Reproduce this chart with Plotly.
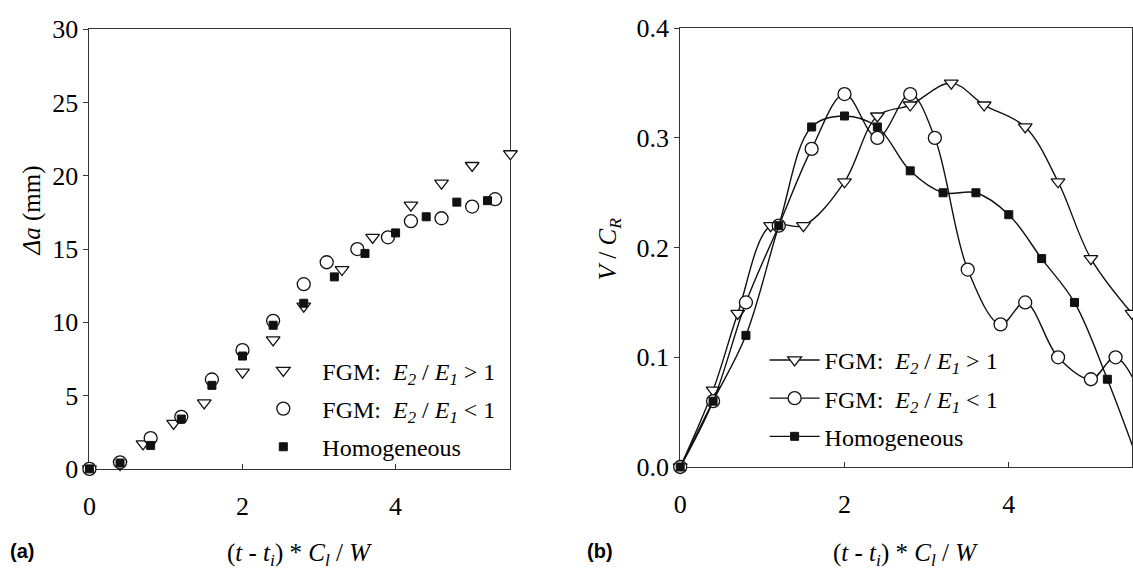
import plotly.graph_objects as go

W, H = 1133, 576

# ---------------- data ----------------
# time instants, (t - ti) * Cl / W
t_up = [0, 0.4, 0.7, 1.1, 1.5, 2.0, 2.4, 2.8, 3.3, 3.7, 4.2, 4.6, 5.0, 5.5]
t_down = [0, 0.4, 0.8, 1.2, 1.6, 2.0, 2.4, 2.8, 3.1, 3.5, 3.9, 4.2, 4.6, 5.0, 5.3]
t_hom = [0, 0.4, 0.8, 1.2, 1.6, 2.0, 2.4, 2.8, 3.2, 3.6, 4.0, 4.4, 4.8, 5.2]

# (a) crack extension, mm
da_up = [0, 0.3, 1.7, 3.1, 4.5, 6.6, 8.8, 11.1, 13.6, 15.8, 18.0, 19.5, 20.7, 21.5]
da_down = [0, 0.45, 2.1, 3.55, 6.1, 8.1, 10.1, 12.6, 14.1, 15.0, 15.8, 16.9, 17.1, 17.9, 18.4]
da_hom = [0, 0.4, 1.6, 3.4, 5.7, 7.7, 9.8, 11.3, 13.1, 14.7, 16.1, 17.2, 18.2, 18.3]

# (b) crack speed V / CR (curves continue past the right edge)
tv_up = [0, 0.4, 0.7, 1.1, 1.5, 2.0, 2.4, 2.8, 3.3, 3.7, 4.2, 4.6, 5.0, 5.5]
v_up = [0, 0.07, 0.14, 0.22, 0.22, 0.26, 0.32, 0.33, 0.35, 0.33, 0.31, 0.26, 0.19, 0.14]
tv_down = [0, 0.4, 0.8, 1.2, 1.6, 2.0, 2.4, 2.8, 3.1, 3.5, 3.9, 4.2, 4.6, 5.0, 5.3, 5.7]
v_down = [0, 0.06, 0.15, 0.22, 0.29, 0.34, 0.30, 0.34, 0.30, 0.18, 0.13, 0.15, 0.10, 0.08, 0.10, 0.05]
tv_hom = [0, 0.4, 0.8, 1.2, 1.6, 2.0, 2.4, 2.8, 3.2, 3.6, 4.0, 4.4, 4.8, 5.2, 5.6]
v_hom = [0, 0.06, 0.12, 0.22, 0.31, 0.32, 0.31, 0.27, 0.25, 0.25, 0.23, 0.19, 0.15, 0.08, 0.0]

names = [
    "FGM:&nbsp; <i>E<sub>2</sub></i> / <i>E<sub>1</sub></i> &gt; 1",
    "FGM:&nbsp; <i>E<sub>2</sub></i> / <i>E<sub>1</sub></i> &lt; 1",
    "Homogeneous",
]
x_ticks = [0, 2, 4]
ya_ticks = [0, 5, 10, 15, 20, 25, 30]
yb_ticks = [0.0, 0.1, 0.2, 0.3, 0.4]

# ---------------- styling ----------------
SERIF = "Liberation Serif"
INK = "#111111"
markers = [
    dict(symbol="triangle-down", size=12, color="white", line=dict(color=INK, width=1.3)),
    dict(symbol="circle", size=13, color="white", line=dict(color=INK, width=1.3)),
    dict(symbol="square", size=8, color=INK, line=dict(color=INK, width=1)),
]

fig = go.Figure()

for i, (xs, ys) in enumerate([(t_up, da_up), (t_down, da_down), (t_hom, da_hom)]):
    fig.add_trace(go.Scatter(
        x=xs, y=ys, mode="markers", name=names[i], marker=markers[i],
        xaxis="x", yaxis="y", legend="legend", legendgroup="a%d" % i,
        cliponaxis=False, showlegend=True))

for i, (xs, ys) in enumerate([(tv_up, v_up), (tv_down, v_down), (tv_hom, v_hom)]):
    fig.add_trace(go.Scatter(
        x=xs, y=ys, mode="lines+markers", name=names[i], marker=markers[i],
        line=dict(color=INK, width=1.4, shape="spline", smoothing=1.0),
        xaxis="x2", yaxis="y2", legend="legend2", legendgroup="b%d" % i,
        cliponaxis=False, showlegend=True))

axis_common = dict(showline=True, mirror=True, linecolor="#333333", linewidth=1,
                   showgrid=False, zeroline=False, layer="below traces",
                   tickfont=dict(family=SERIF, size=26, color="black"),
                   tickcolor="#333333", ticklen=5)

fig.update_layout(
    width=W, height=H,
    margin=dict(l=0, r=0, t=0, b=0),
    paper_bgcolor="white", plot_bgcolor="white",
    font=dict(family=SERIF, size=24, color="black"),
    xaxis=dict(domain=[83 / W, 507 / W], range=[0, 5.5], tickvals=x_ticks,
               ticks="inside", anchor="y", ticklabelstandoff=14, **axis_common),
    yaxis=dict(domain=[1 - 479 / H, 1 - 16 / H], range=[0, 30], tickvals=ya_ticks,
               ticks="outside", anchor="x", **axis_common),
    xaxis2=dict(domain=[678 / W, 1.0], range=[0, 5.5], tickvals=x_ticks,
                ticks="inside", anchor="y2", ticklabelstandoff=14, **axis_common),
    yaxis2=dict(domain=[1 - 477 / H, 1 - 15 / H], range=[0, 0.4], tickvals=yb_ticks,
                tickformat=".1f", ticks="outside", anchor="x2", **axis_common),
    legend=dict(x=239 / W, y=1 - 352 / H, xanchor="left", yanchor="top",
                bgcolor="rgba(0,0,0,0)", font=dict(family=SERIF, size=24),
                tracegroupgap=4, traceorder="grouped", itemwidth=68),
    legend2=dict(x=763 / W, y=1 - 341 / H, xanchor="left", yanchor="top",
                 bgcolor="rgba(0,0,0,0)", font=dict(family=SERIF, size=24),
                 tracegroupgap=4, traceorder="grouped", itemwidth=50),
    showlegend=True,
)

xtitle = "(<i>t</i> - <i>t<sub>i</sub></i>) * <i>C<sub>l</sub></i> / <i>W</i>"
ann = [
    dict(x=295 / W, y=1 - 569 / H, text=xtitle),
    dict(x=905 / W, y=1 - 569 / H, text=xtitle),
    dict(x=25 / W, y=1 - 207 / H, text="<i>Δa</i> (mm)", textangle=-90),
    dict(x=607 / W, y=1 - 248 / H, text="<i>V</i> / <i>C<sub>R</sub></i>", textangle=-90),
]
for a in ann:
    fig.add_annotation(xref="paper", yref="paper", showarrow=False,
                       xanchor="center", yanchor="middle",
                       font=dict(family=SERIF, size=25, color="black"), **a)
for x, t in [(15, "(a)"), (597, "(b)")]:
    fig.add_annotation(xref="paper", yref="paper", showarrow=False,
                       x=x / W, y=1 - 565 / H, xanchor="center", yanchor="middle",
                       text="<b>%s</b>" % t,
                       font=dict(family="Liberation Sans", size=20, color="black"))

fig.write_html("out.html")
